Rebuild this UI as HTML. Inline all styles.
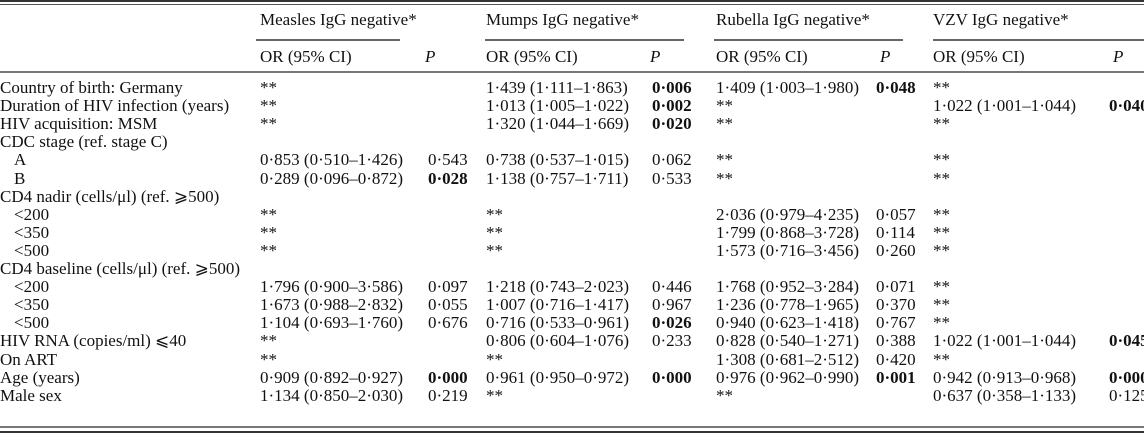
<!DOCTYPE html>
<html><head><meta charset="utf-8">
<style>
html,body{margin:0;padding:0;background:#fff;}
#t{position:relative;width:1144px;height:438px;overflow:hidden;font-family:"Liberation Serif",serif;font-size:17px;color:#111;}
.c{position:absolute;white-space:nowrap;line-height:20px;transform:translateY(-10px);}
.ln{position:absolute;height:1px;background:#555;}
b{font-weight:bold;}
</style></head><body>
<div id="t">
<div class="ln" style="left:0;top:0;width:1144px;height:2px;background:#333"></div>
<div class="ln" style="left:0;top:4px;width:1144px;height:1px;"></div>
<div class="ln" style="left:256px;top:39px;width:144px;height:2px;background:#666"></div>
<div class="ln" style="left:485px;top:39px;width:199px;height:2px;background:#666"></div>
<div class="ln" style="left:714px;top:39px;width:189px;height:2px;background:#666"></div>
<div class="ln" style="left:933px;top:39px;width:211px;height:2px;background:#666"></div>
<div class="ln" style="left:0;top:71px;width:1144px;height:2px;background:#777"></div>
<div class="ln" style="left:0;top:426px;width:1144px;height:2px;background:#777"></div>
<div class="ln" style="left:0;top:431px;width:1144px;height:2px;background:#333"></div>
<div class="c" style="left:260px;top:20px">Measles IgG negative*</div>
<div class="c" style="left:486px;top:20px">Mumps IgG negative*</div>
<div class="c" style="left:716px;top:20px">Rubella IgG negative*</div>
<div class="c" style="left:933px;top:20px">VZV IgG negative*</div>
</div>
<script>
const labels=["Country of birth: Germany","Duration of HIV infection (years)","HIV acquisition: MSM","CDC stage (ref. stage C)","iA","iB","CD4 nadir (cells/\u03bcl) (ref. \u2a7e500)","i<200","i<350","i<500","CD4 baseline (cells/\u03bcl) (ref. \u2a7e500)","i<200","i<350","i<500","HIV RNA (copies/ml) \u2a7d40","On ART","Age (years)","Male sex"];
const measlesOR=["**","**","**","","0·853 (0·510–1·426)","0·289 (0·096–0·872)","","**","**","**","","1·796 (0·900–3·586)","1·673 (0·988–2·832)","1·104 (0·693–1·760)","**","**","0·909 (0·892–0·927)","1·134 (0·850–2·030)"];
const measlesP=["","","","","0·543","b0·028","","","","","","0·097","0·055","0·676","","","b0·000","0·219"];
const mumpsOR=["1·439 (1·111–1·863)","1·013 (1·005–1·022)","1·320 (1·044–1·669)","","0·738 (0·537–1·015)","1·138 (0·757–1·711)","","**","**","**","","1·218 (0·743–2·023)","1·007 (0·716–1·417)","0·716 (0·533–0·961)","0·806 (0·604–1·076)","**","0·961 (0·950–0·972)","**"];
const mumpsP=["b0·006","b0·002","b0·020","","0·062","0·533","","","","","","0·446","0·967","b0·026","0·233","","b0·000",""];
const rubellaOR=["1·409 (1·003–1·980)","**","**","","**","**","","2·036 (0·979–4·235)","1·799 (0·868–3·728)","1·573 (0·716–3·456)","","1·768 (0·952–3·284)","1·236 (0·778–1·965)","0·940 (0·623–1·418)","0·828 (0·540–1·271)","1·308 (0·681–2·512)","0·976 (0·962–0·990)","**"];
const rubellaP=["b0·048","","","","","","","0·057","0·114","0·260","","0·071","0·370","0·767","0·388","0·420","b0·001",""];
const vzvOR=["**","1·022 (1·001–1·044)","**","","**","**","","**","**","**","","**","**","**","1·022 (1·001–1·044)","**","0·942 (0·913–0·968)","0·637 (0·358–1·133)"];
const vzvP=["","b0·040","","","","","","","","","","","","","b0·045","","b0·000","0·125"];
const t=document.getElementById('t');
function yRow(i){return 88+i*18.1;}
function cell(txt,x,y){
  const d=document.createElement('div');
  d.className='c';
  if(txt.startsWith('i')){txt=txt.slice(1);x+=14;}
  d.style.left=x+'px';d.style.top=y+'px';
  if(txt.startsWith('b')){const b=document.createElement('b');b.textContent=txt.slice(1);d.appendChild(b);}
  else d.textContent=txt;
  
  
  t.appendChild(d);
}
[260,486,716,933].forEach(x=>cell("OR (95% CI)",x,57));
[425,650,880,1113].forEach(x=>{const d=document.createElement('div');d.className='c';d.style.left=x+'px';d.style.top='57px';d.innerHTML='<i>P</i>';


t.appendChild(d);});
const cols=[[measlesOR,260],[measlesP,428],[mumpsOR,486],[mumpsP,652],[rubellaOR,716],[rubellaP,876],[vzvOR,933],[vzvP,1109]];
labels.forEach((l,i)=>{
  cell(l,0,yRow(i));
  cols.forEach(c=>{if(c[0][i])cell(c[0][i],c[1],yRow(i));});
});
</script>
</body></html>
